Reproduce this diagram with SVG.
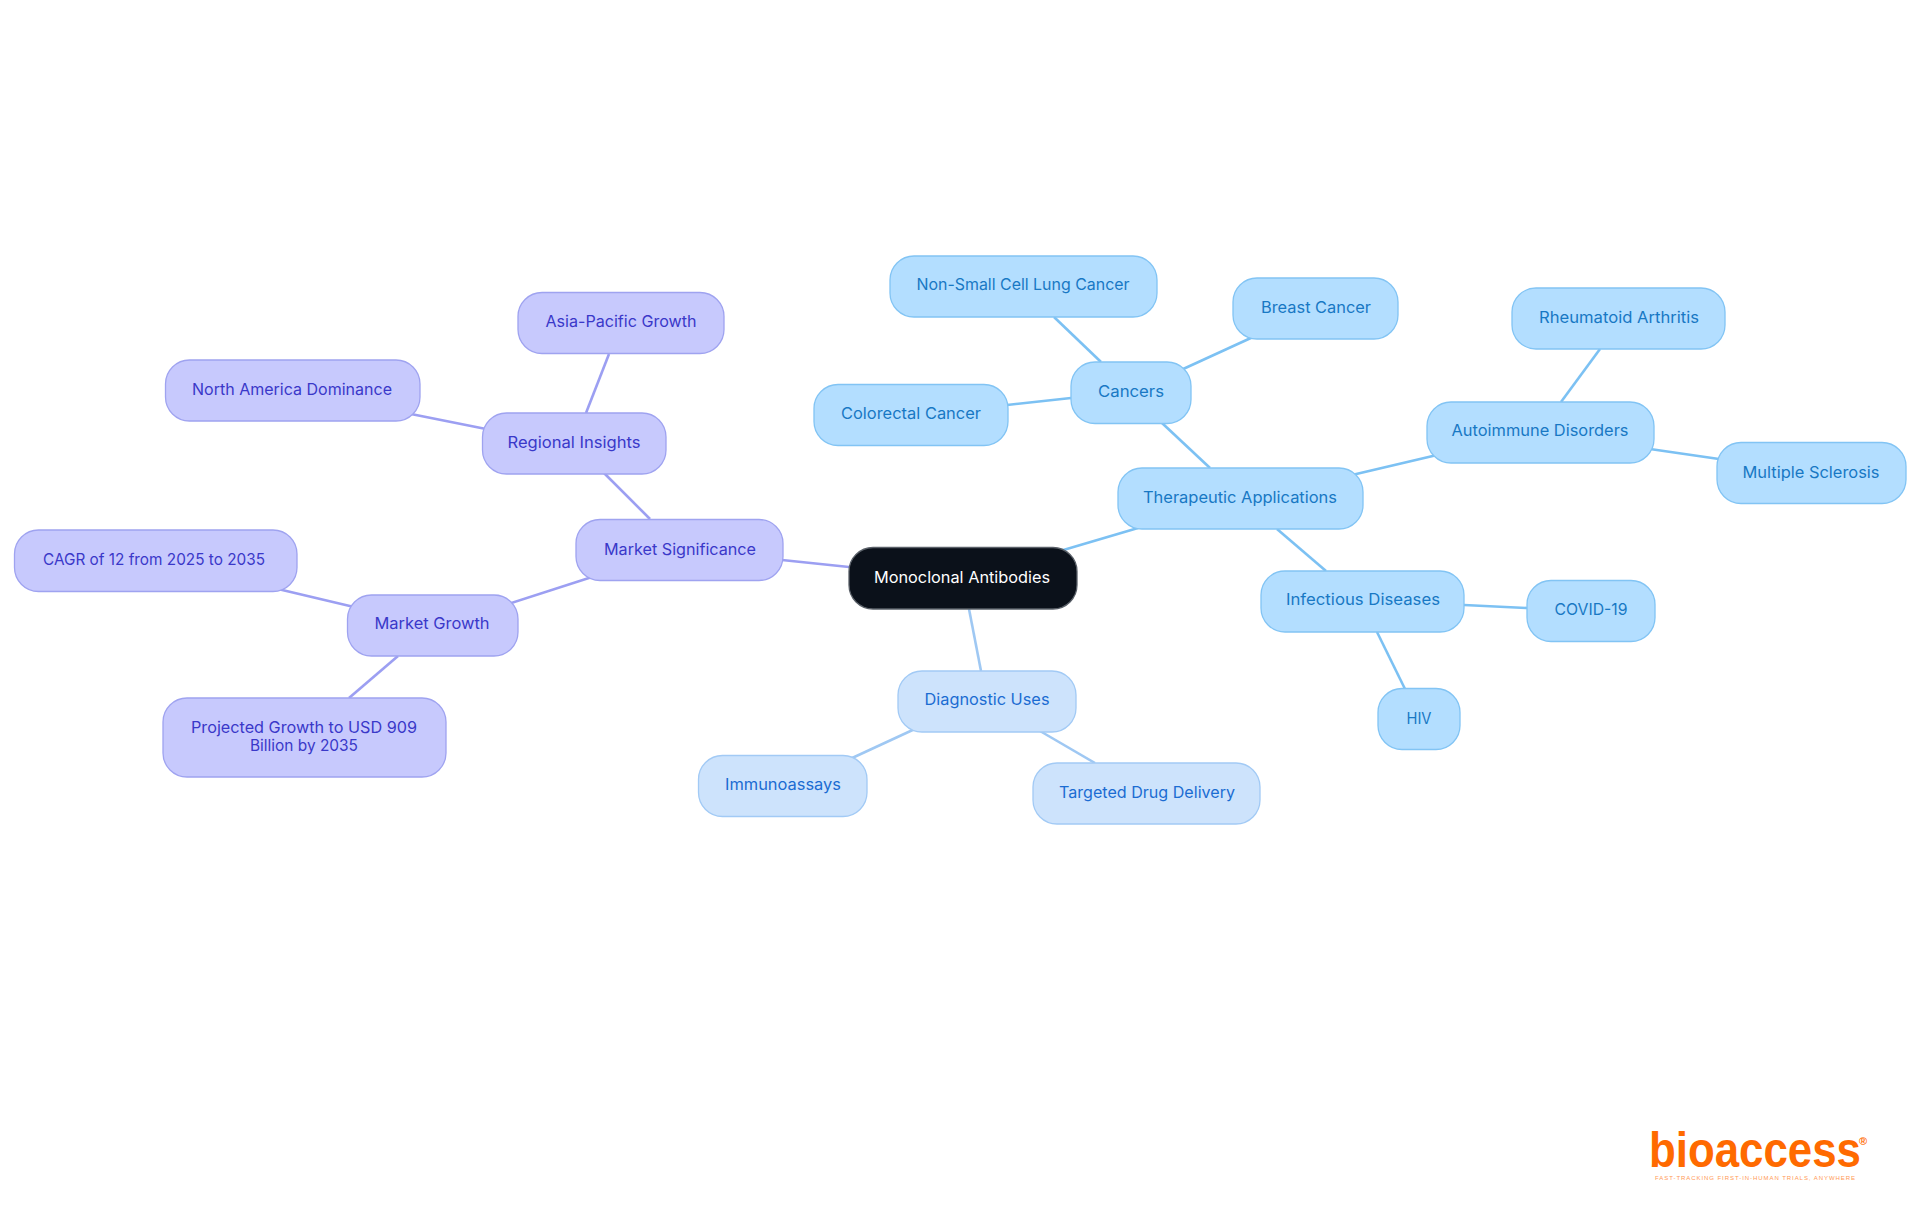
<svg xmlns="http://www.w3.org/2000/svg" width="1920" height="1215" viewBox="0 0 1920 1215">
<style>
text{font-family:Inter,"Noto Sans",sans-serif;font-size:16px;text-anchor:middle}
.n{stroke-width:1.3;rx:24px;ry:24px}
.b rect{fill:#b3deff;stroke:#82c4f4}.b text{fill:#1878c4}
.d rect{fill:#cde3fc;stroke:#a2caf5}.d text{fill:#1b6cd2}
.p rect{fill:#c7c9fd;stroke:#9fa3f0}.p text{fill:#3a38c9}
.r rect{fill:#0b111a;stroke:#5a6068}.r text{fill:#fff}
#connectors path{fill:none;stroke-width:2.6}
.cb{stroke:#7cc1f3}.cd{stroke:#9fc8f3}.cp{stroke:#9c9ff2}
</style>
<g id="connectors">
<path class="cb" d="M1060 551L1138 528"/>
<path class="cb" d="M1210 468L1162 423"/>
<path class="cb" d="M1101 362L1054 317"/>
<path class="cb" d="M1181 370L1253 337"/>
<path class="cb" d="M1071 398L1007 405"/>
<path class="cb" d="M1352 475L1437 455"/>
<path class="cb" d="M1561 402L1600 349"/>
<path class="cb" d="M1650 449L1719 459"/>
<path class="cb" d="M1277 529L1326 571"/>
<path class="cb" d="M1464 605L1527 608"/>
<path class="cb" d="M1377 632L1405 689"/>
<path class="cd" d="M969 609L981 671"/>
<path class="cd" d="M917 728L850 759"/>
<path class="cd" d="M1040 731L1095 763"/>
<path class="cp" d="M849 567L782 560"/>
<path class="cp" d="M650 519L604 473"/>
<path class="cp" d="M586 413L609 354"/>
<path class="cp" d="M486 429L411 414"/>
<path class="cp" d="M592 577L508 604"/>
<path class="cp" d="M354 607L278 589"/>
<path class="cp" d="M398 656L349 698"/>
</g>
<g id="root" class="r"><rect class="n" x="849" y="547.5" width="228" height="61.5"/><text x="962" y="583" textLength="176" lengthAdjust="spacingAndGlyphs">Monoclonal Antibodies</text></g>
<g id="therapeutic" class="b"><rect class="n" x="1118" y="468" width="245" height="61"/><text x="1240" y="503" textLength="194" lengthAdjust="spacingAndGlyphs">Therapeutic Applications</text></g>
<g id="cancers" class="b"><rect class="n" x="1071" y="362" width="120" height="61.5"/><text x="1131" y="397" textLength="66" lengthAdjust="spacingAndGlyphs">Cancers</text></g>
<g id="nsclc" class="b"><rect class="n" x="890" y="256" width="267" height="61"/><text x="1023" y="290" textLength="213" lengthAdjust="spacingAndGlyphs">Non-Small Cell Lung Cancer</text></g>
<g id="breast" class="b"><rect class="n" x="1233" y="278" width="165" height="61"/><text x="1316" y="313" textLength="110" lengthAdjust="spacingAndGlyphs">Breast Cancer</text></g>
<g id="colorectal" class="b"><rect class="n" x="814" y="384.500" width="194" height="61"/><text x="911" y="419" textLength="140" lengthAdjust="spacingAndGlyphs">Colorectal Cancer</text></g>
<g id="autoimmune" class="b"><rect class="n" x="1427" y="402" width="227" height="61"/><text x="1540" y="436" textLength="177" lengthAdjust="spacingAndGlyphs">Autoimmune Disorders</text></g>
<g id="rheumatoid" class="b"><rect class="n" x="1512" y="288" width="213" height="61"/><text x="1619" y="323" textLength="160" lengthAdjust="spacingAndGlyphs">Rheumatoid Arthritis</text></g>
<g id="sclerosis" class="b"><rect class="n" x="1717" y="442.500" width="189" height="61"/><text x="1811" y="478" textLength="137" lengthAdjust="spacingAndGlyphs">Multiple Sclerosis</text></g>
<g id="infectious" class="b"><rect class="n" x="1261" y="571" width="203" height="61"/><text x="1363" y="605" textLength="154" lengthAdjust="spacingAndGlyphs">Infectious Diseases</text></g>
<g id="covid" class="b"><rect class="n" x="1527" y="580.500" width="128" height="61"/><text x="1591" y="615" textLength="73" lengthAdjust="spacingAndGlyphs">COVID-19</text></g>
<g id="hiv" class="b"><rect class="n" x="1378" y="688.500" width="82" height="61"/><text x="1419" y="724" textLength="25" lengthAdjust="spacingAndGlyphs">HIV</text></g>
<g id="diagnostic" class="d"><rect class="n" x="898" y="671" width="178" height="61"/><text x="987" y="705" textLength="125" lengthAdjust="spacingAndGlyphs">Diagnostic Uses</text></g>
<g id="immunoassays" class="d"><rect class="n" x="698.500" y="755.500" width="168.500" height="61"/><text x="783" y="790" textLength="116" lengthAdjust="spacingAndGlyphs">Immunoassays</text></g>
<g id="targeted" class="d"><rect class="n" x="1033" y="763" width="227" height="61"/><text x="1147" y="798" textLength="176" lengthAdjust="spacingAndGlyphs">Targeted Drug Delivery</text></g>
<g id="significance" class="p"><rect class="n" x="576" y="519.500" width="207" height="61"/><text x="680" y="555" textLength="152" lengthAdjust="spacingAndGlyphs">Market Significance</text></g>
<g id="regional" class="p"><rect class="n" x="482.500" y="413" width="183.500" height="61"/><text x="574" y="448" textLength="133" lengthAdjust="spacingAndGlyphs">Regional Insights</text></g>
<g id="asia" class="p"><rect class="n" x="518" y="292.500" width="206" height="61"/><text x="621" y="327" textLength="151" lengthAdjust="spacingAndGlyphs">Asia-Pacific Growth</text></g>
<g id="north" class="p"><rect class="n" x="165.500" y="360" width="254.500" height="61"/><text x="292" y="395" textLength="200" lengthAdjust="spacingAndGlyphs">North America Dominance</text></g>
<g id="growth" class="p"><rect class="n" x="347.500" y="595" width="170.500" height="61"/><text x="432" y="629" textLength="115" lengthAdjust="spacingAndGlyphs">Market Growth</text></g>
<g id="cagr" class="p"><rect class="n" x="14.500" y="530" width="282.500" height="61.500"/><text x="154" y="565" textLength="222" lengthAdjust="spacingAndGlyphs">CAGR of 12 from 2025 to 2035</text></g>
<g id="projected" class="p"><rect class="n" x="163" y="698" width="283" height="79"/><text x="304" y="733" textLength="226" lengthAdjust="spacingAndGlyphs">Projected Growth to USD 909</text><text x="304" y="751" textLength="108" lengthAdjust="spacingAndGlyphs">Billion by 2035</text></g>
<g id="logo"><text x="1755" y="1167" textLength="212" lengthAdjust="spacingAndGlyphs" style="font-family:'Liberation Sans',sans-serif;font-size:50px;font-weight:700;fill:#ff6a00">bioaccess</text><text x="1863" y="1145" style="font-family:'Liberation Sans',sans-serif;font-size:11px;font-weight:700;fill:#ff6a00">®</text><text x="1755" y="1180" textLength="200" lengthAdjust="spacing" style="font-family:'Liberation Sans',sans-serif;font-size:6px;fill:#ff9a55">FAST-TRACKING FIRST-IN-HUMAN TRIALS, ANYWHERE</text></g>
</svg>
